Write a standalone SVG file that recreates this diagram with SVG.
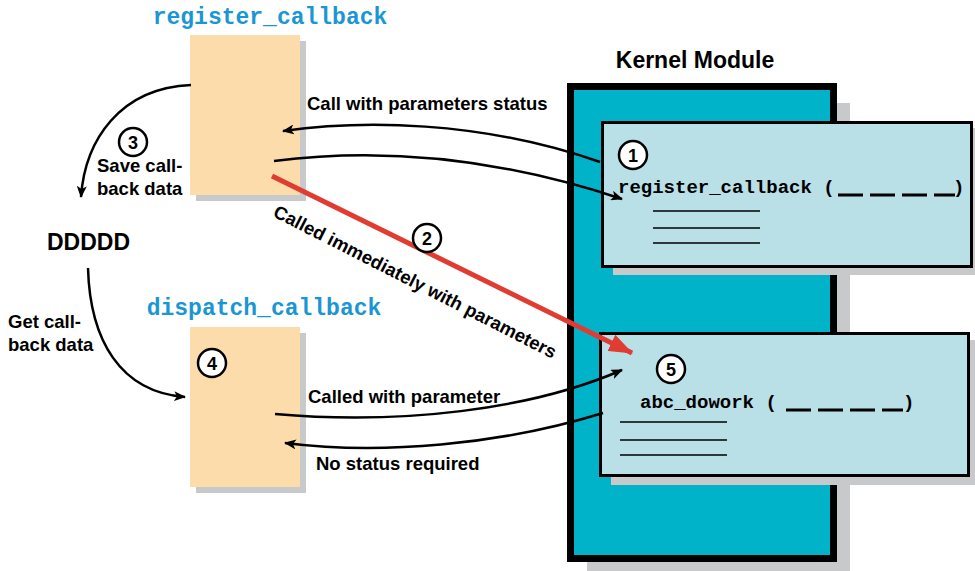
<svg xmlns="http://www.w3.org/2000/svg" width="975" height="571" viewBox="0 0 975 571">
<defs>
<marker id="ah" viewBox="0 0 12 10" refX="11" refY="5" markerWidth="12" markerHeight="10" markerUnits="userSpaceOnUse" orient="auto"><path d="M0,0 L12,5 L0,10 L3,5 Z" fill="#000"/></marker>
<marker id="ahr" viewBox="0 0 24 18" refX="23" refY="9" markerWidth="24" markerHeight="18" markerUnits="userSpaceOnUse" orient="auto"><path d="M0,0 L24,9 L0,18 Z" fill="#e03c31"/></marker>
</defs>
<style>
.lbl{font-family:"Liberation Sans",Arial,sans-serif;font-weight:bold;font-size:18.5px;fill:#000}
.ttl{font-family:"Liberation Mono","Courier New",monospace;font-weight:bold;font-size:23px;fill:#1a96d4}
.code{font-family:"Liberation Mono","Courier New",monospace;font-weight:bold;font-size:19px;fill:#000}
.num{font-family:"Liberation Sans",Arial,sans-serif;font-weight:bold;font-size:18px;fill:#000;text-anchor:middle}
.circ{fill:#fff;stroke:#000;stroke-width:2.5}
.shadow{fill:#c8c9cb}
.tan{fill:#fcdcaa}
.cn{fill:none;stroke:#000;stroke-width:2.5}
.ln{stroke:#000;stroke-width:1.5}
.dash{stroke:#000;stroke-width:3;stroke-dasharray:25,7}
</style>

<g id="kernel-module">
<rect class="shadow" x="587" y="103" width="263" height="468"/>
<rect x="570.5" y="86.5" width="263" height="472" fill="#00b3c8" stroke="#000" stroke-width="7"/>
<text x="695" y="68" class="lbl" style="font-size:23px" text-anchor="middle">Kernel Module</text>
</g>

<g id="register-box">
<text x="270" y="24" class="ttl" text-anchor="middle">register_callback</text>
<rect class="shadow" x="196" y="41" width="110" height="160"/>
<rect class="tan" x="190" y="35" width="110" height="160"/>
</g>

<g id="dispatch-box">
<text x="264" y="315" class="ttl" text-anchor="middle">dispatch_callback</text>
<rect class="shadow" x="196" y="333" width="110" height="160"/>
<rect class="tan" x="190" y="327" width="110" height="160"/>
<circle class="circ" cx="212" cy="363" r="14"/>
<text x="212" y="369.5" class="num">4</text>
</g>

<g id="box-register-fn">
<rect class="shadow" x="613" y="128" width="362" height="147"/>
<rect x="602.5" y="122.5" width="369" height="144" fill="#b9dfe7" stroke="#000" stroke-width="3"/>
<circle class="circ" cx="633" cy="155" r="14"/>
<text x="633" y="161.5" class="num">1</text>
<text x="618" y="193" class="code">register_callback (</text>
<line class="dash" x1="838" y1="195" x2="955" y2="195"/>
<text x="953" y="193" class="code">)</text>
<line class="ln" x1="653" y1="211" x2="760" y2="211"/>
<line class="ln" x1="653" y1="228" x2="760" y2="228"/>
<line class="ln" x1="653" y1="243" x2="760" y2="243"/>
</g>

<g id="box-abc-dowork">
<rect class="shadow" x="611" y="340" width="364" height="145"/>
<rect x="600.5" y="333.5" width="368" height="142" fill="#b9dfe7" stroke="#000" stroke-width="3"/>
<circle class="circ" cx="671" cy="369" r="14"/>
<text x="671" y="375.5" class="num">5</text>
<text x="640" y="408" class="code">abc_dowork (</text>
<line class="dash" x1="786" y1="410" x2="903" y2="410"/>
<text x="903" y="408" class="code">)</text>
<line class="ln" x1="620" y1="422" x2="727" y2="422"/>
<line class="ln" x1="620" y1="440" x2="727" y2="440"/>
<line class="ln" x1="620" y1="455" x2="727" y2="455"/>
</g>

<g id="ddddd">
<text x="47" y="250" class="lbl" style="font-size:23px">DDDDD</text>
</g>

<g id="connectors">
<path class="cn" d="M600,162 C480,120 360,120 283,131" marker-end="url(#ah)"/>
<path class="cn" d="M274,161 C400,145 520,165 622,199" marker-end="url(#ah)"/>
<path class="cn" d="M191,85 C120,88 85,140 81,197" marker-end="url(#ah)"/>
<path class="cn" d="M88,268 C90,340 120,392 185,397" marker-end="url(#ah)"/>
<path class="cn" d="M275,414 C400,425 530,410 622,370" marker-end="url(#ah)"/>
<path class="cn" d="M603,413 C500,445 380,455 285,443" marker-end="url(#ah)"/>
<path d="M272,176 L632,353" fill="none" stroke="#e03c31" stroke-width="5" marker-end="url(#ahr)"/>
</g>

<g id="labels">
<text x="307" y="110" class="lbl">Call with parameters status</text>
<circle class="circ" cx="133" cy="142" r="14"/>
<text x="133" y="148.5" class="num">3</text>
<text x="97" y="172" class="lbl">Save call-</text>
<text x="97" y="195" class="lbl">back data</text>
<text x="8" y="328" class="lbl">Get call-</text>
<text x="8" y="351" class="lbl">back data</text>
<circle class="circ" cx="427" cy="238" r="14"/>
<text x="427" y="244.5" class="num">2</text>
<text class="lbl" transform="translate(272,216) rotate(27)">Called immediately with parameters</text>
<text x="308" y="403" class="lbl">Called with parameter</text>
<text x="316" y="470" class="lbl">No status required</text>
</g>
</svg>
